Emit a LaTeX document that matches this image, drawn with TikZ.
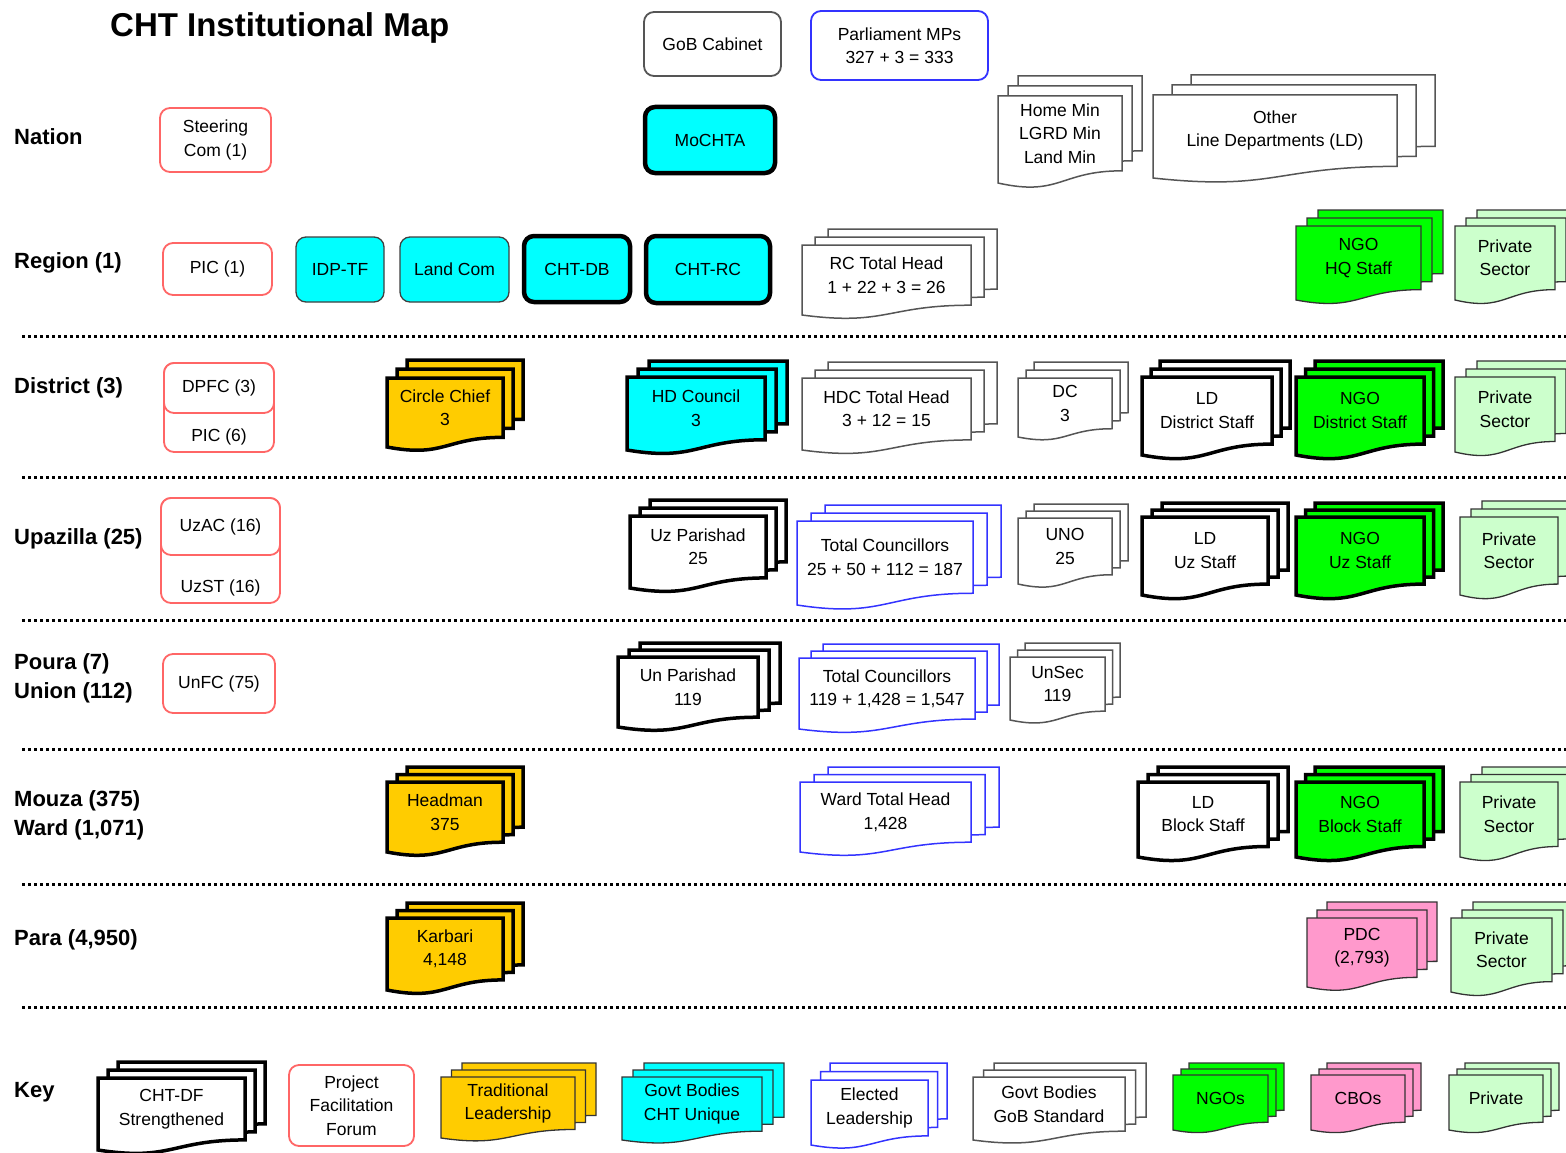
\documentclass[tikz,border=0pt]{standalone}
\usepackage{fontspec}
\setmainfont{Liberation Sans}
\definecolor{cyanf}{HTML}{00FFFF}
\definecolor{yel}{HTML}{FFCC00}
\definecolor{ngog}{HTML}{00FF00}
\definecolor{privg}{HTML}{CCFFCC}
\definecolor{cbo}{HTML}{FF99CC}
\definecolor{redb}{HTML}{FF6666}
\definecolor{blueb}{HTML}{3333FF}
\definecolor{grayb}{HTML}{555555}
% document-stack shape: #1 style, #2 name, #3 x0, #4 y0, #5 x1, #6 y1 (bottom-left), #7 dx, #8 dy, #9 text
\newcommand{\docpathx}[4]{%
  \draw (#1,#2) -- (#3,#2) -- (#3,{#4-0.14*(#4-#2)}) .. controls ({0.5*(#1+#3)},{#4-0.14*(#4-#2)}) and ({0.5*(#1+#3)},{#4+0.16*(#4-#2)}) .. (#1,#4) -- cycle;}
\newcommand{\mdoc}[9]{%
  \begin{scope}[#1]
  \begin{scope}[shift={({2*#7},{-2*#8})}]\docpathx{#3}{#4}{#5}{#6}\end{scope}
  \begin{scope}[shift={({#7},{-#8})}]\docpathx{#3}{#4}{#5}{#6}\end{scope}
  \docpathx{#3}{#4}{#5}{#6}
  \end{scope}
  \node (#2) at ({0.5*(#3+#5)},{0.5*(#4+#6-0.14*(#6-#4))}) {#9};}
\newcommand{\rb}[7]{%
  \node[#1, minimum width={#5-#3}, minimum height={#6-#4}] (#2) at ({0.5*(#3+#5)},{0.5*(#4+#6)}) {#7};}
\begin{document}
\begin{tikzpicture}[x=1pt,y=-1pt,
  every node/.style={font=\fontsize{17.5}{23.5}\selectfont, align=center, inner sep=0pt, text=black},
  lbl/.style={font=\fontsize{22}{29}\selectfont\bfseries, anchor=west, align=left},
  redbox/.style={draw=redb, line width=1.8pt, rounded corners=10pt, fill=white},
  graybox/.style={draw=grayb, line width=1.8pt, rounded corners=10pt, fill=white},
  bluebox/.style={draw=blueb, line width=1.8pt, rounded corners=10pt, fill=white},
  cyanthin/.style={draw=black!75, line width=1.3pt, rounded corners=10pt, fill=cyanf},
  cyanthick/.style={draw=black, line width=4.5pt, rounded corners=10pt, fill=cyanf},
  thickwhite/.style={every path/.style={draw=black, line width=3.5pt, fill=white}},
  thickyel/.style={every path/.style={draw=black, line width=3.5pt, fill=yel}},
  thickcyan/.style={every path/.style={draw=black, line width=3.5pt, fill=cyanf}},
  thickgreen/.style={every path/.style={draw=black, line width=3.5pt, fill=ngog}},
  graydoc/.style={every path/.style={draw=grayb, line width=1.5pt, fill=white}},
  bluedoc/.style={every path/.style={draw=blueb, line width=1.5pt, fill=white}},
  thinyel/.style={every path/.style={draw=black!80, line width=1.3pt, fill=yel}},
  thincyan/.style={every path/.style={draw=black!80, line width=1.3pt, fill=cyanf}},
  thingreen/.style={every path/.style={draw=black!80, line width=1.3pt, fill=ngog}},
  thinpink/.style={every path/.style={draw=black!80, line width=1.3pt, fill=cbo}},
  thinpriv/.style={every path/.style={draw=black!80, line width=1.3pt, fill=privg}},
  sep/.style={line width=3pt, dash pattern=on 3pt off 3pt}]
\fill[white] (0,0) rectangle (1566,1153);
\useasboundingbox (0,0) rectangle (1566,1153);
\clip (0,0) rectangle (1566,1153);

\node[font=\fontsize{33}{40}\selectfont\bfseries, anchor=west] (title) at (110,28) {CHT Institutional Map};

% Nation
\node[lbl] (lnation) at (14,137) {Nation};
\rb{graybox}{cabinet}{644}{12}{781}{76}{GoB Cabinet}
\rb{bluebox}{mps}{811}{11}{988}{80}{Parliament MPs\\327 + 3 = 333}
\rb{redbox}{steer}{160}{108}{271}{172}{Steering\\Com (1)}
\rb{cyanthick}{mochta}{645}{107}{775}{173}{MoCHTA}
\mdoc{graydoc}{homemin}{998}{96}{1122}{183}{10}{10}{Home Min\\LGRD Min\\Land Min}
\mdoc{graydoc}{otherld}{1153}{95}{1397}{178}{19}{10}{Other\\Line Departments (LD)}

% Region
\node[lbl] (lregion) at (14,263) {Region (1)};
\rb{redbox}{pic1}{163}{243}{272}{295}{PIC (1)}
\rb{cyanthin}{idptf}{296}{237}{384}{302}{IDP-TF}
\rb{cyanthin}{landcom}{400}{237}{509}{302}{Land Com}
\rb{cyanthick}{chtdb}{524}{236}{630}{302}{CHT-DB}
\rb{cyanthick}{chtrc}{646}{236}{770}{303}{CHT-RC}
\mdoc{graydoc}{rctotal}{802}{245}{971}{315}{13}{8}{RC Total Head\\1 + 22 + 3 = 26}
\mdoc{thingreen}{ngohq}{1296}{226}{1421}{300}{11}{8}{NGO\\HQ Staff}
\mdoc{thinpriv}{privr}{1455}{226}{1555}{300}{11}{8}{Private\\Sector}
\draw[sep] (22,336) -- (1566,336);

% District
\node[lbl] (ldistrict) at (14,388) {District (3)};
\rb{redbox}{dgroup}{164}{363}{274}{452}{}
\rb{redbox}{dpfc}{164}{363}{274}{413}{DPFC (3)}
\node (pic6) at (219,437) {PIC (6)};
\mdoc{thickyel}{circle}{387}{378}{503}{447}{10}{9}{Circle Chief\\3}
\mdoc{thickcyan}{hdc}{627}{377}{765}{450}{11}{8}{HD Council\\3}
\mdoc{graydoc}{hdctotal}{802}{378}{971}{450}{13}{8}{HDC Total Head\\3 + 12 = 15}
\mdoc{graydoc}{dc}{1018}{378}{1112}{437}{8}{8}{DC\\3}
\mdoc{thickwhite}{lddist}{1142}{377}{1272}{455}{9}{8}{LD\\District Staff}
\mdoc{thickgreen}{ngodist}{1296}{377}{1424}{455}{9.5}{8}{NGO\\District Staff}
\mdoc{thinpriv}{privd}{1455}{377}{1555}{452}{11}{8}{Private\\Sector}
\draw[sep] (22,477) -- (1566,477);

% Upazilla
\node[lbl] (lupazilla) at (14,539) {Upazilla (25)};
\rb{redbox}{ugroup}{161}{498}{280}{603}{}
\rb{redbox}{uzac}{161}{498}{280}{555}{UzAC (16)}
\node (uzst) at (220.5,588) {UzST (16)};
\mdoc{thickwhite}{uzp}{630}{516}{766}{588}{10}{8}{Uz Parishad\\25}
\mdoc{bluedoc}{tcuz}{797}{521}{973}{605}{14}{8}{Total Councillors\\25 + 50 + 112 = 187}
\mdoc{graydoc}{uno}{1018}{518}{1112}{584}{8}{7}{UNO\\25}
\mdoc{thickwhite}{lduz}{1142}{517}{1268}{595}{10}{7}{LD\\Uz Staff}
\mdoc{thickgreen}{ngouz}{1296}{517}{1424}{595}{9.5}{7}{NGO\\Uz Staff}
\mdoc{thinpriv}{privu}{1460}{517}{1558}{595}{11}{8}{Private\\Sector}
\draw[sep] (22,620) -- (1566,620);

% Poura / Union
\node[lbl] (lpoura) at (14,678.5) {Poura (7)\\Union (112)};
\rb{redbox}{unfc}{163}{654}{275}{713}{UnFC (75)}
\mdoc{thickwhite}{unp}{618}{657}{758}{727}{11}{7}{Un Parishad\\119}
\mdoc{bluedoc}{tcun}{799}{658}{975}{729}{12}{7}{Total Councillors\\119 + 1,428 = 1,547}
\mdoc{graydoc}{unsec}{1010}{657}{1105}{720}{7.5}{7}{UnSec\\119}
\draw[sep] (22,749) -- (1566,749);

% Mouza / Ward
\node[lbl] (lmouza) at (14,815) {Mouza (375)\\Ward (1,071)};
\mdoc{thickyel}{headman}{387}{782}{503}{852}{10}{7.5}{Headman\\375}
\mdoc{bluedoc}{wardtotal}{800}{782}{971}{852}{14}{7.5}{Ward Total Head\\1,428}
\mdoc{thickwhite}{ldblock}{1138}{782}{1268}{857}{10}{7.5}{LD\\Block Staff}
\mdoc{thickgreen}{ngoblock}{1296}{782}{1424}{857}{9.5}{7.5}{NGO\\Block Staff}
\mdoc{thinpriv}{privm}{1460}{782}{1558}{857}{11}{7.5}{Private\\Sector}
\draw[sep] (22,884) -- (1566,884);

% Para
\node[lbl] (lpara) at (14,940) {Para (4,950)};
\mdoc{thickyel}{karbari}{387}{918}{503}{990}{10}{7.5}{Karbari\\4,148}
\mdoc{thinpink}{pdc}{1307}{918}{1417}{987}{10}{8}{PDC\\(2,793)}
\mdoc{thinpriv}{privp}{1451}{918}{1552}{992}{11}{8}{Private\\Sector}
\draw[sep] (22,1007) -- (1566,1007);

% Key
\node[lbl] (lkey) at (14,1092) {Key};
\mdoc{thickwhite}{kchtdf}{98}{1078}{245}{1150}{10}{8}{CHT-DF\\Strengthened}
\rb{redbox}{kpff}{289}{1065}{414}{1146}{Project\\Facilitation\\Forum}
\mdoc{thinyel}{ktrad}{441}{1077}{575}{1138}{10.5}{7}{Traditional\\Leadership}
\mdoc{thincyan}{kcht}{622}{1077}{762}{1140}{11}{7}{Govt Bodies\\CHT Unique}
\mdoc{bluedoc}{kelected}{811}{1080}{928}{1145}{9.5}{8.5}{Elected\\Leadership}
\mdoc{graydoc}{kgob}{973}{1077}{1125}{1140}{10.5}{7}{Govt Bodies\\GoB Standard}
\mdoc{thingreen}{kngo}{1173}{1075}{1268}{1130}{8}{6}{NGOs}
\mdoc{thinpink}{kcbo}{1311}{1075}{1405}{1130}{8}{6}{CBOs}
\mdoc{thinpriv}{kpriv}{1449}{1075}{1543}{1130}{8}{6}{Private}
\end{tikzpicture}
\end{document}
